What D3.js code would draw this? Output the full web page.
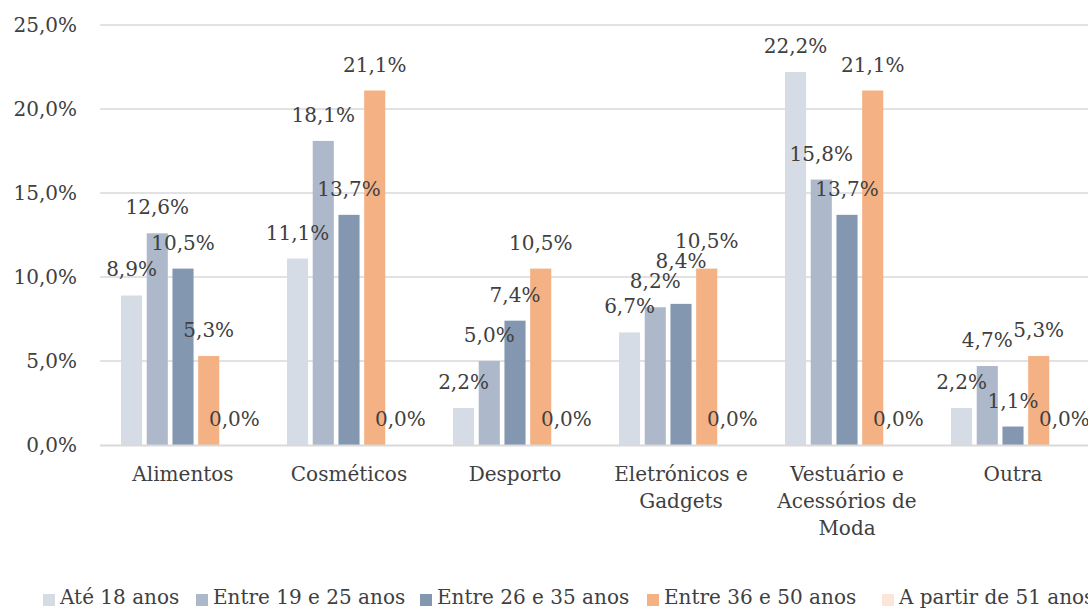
<!DOCTYPE html>
<html><head><meta charset="utf-8">
<script src="https://cdn.jsdelivr.net/npm/d3@7"></script>
<style>
html,body{margin:0;padding:0;background:#fff;}
text{font-family:"DejaVu Serif",Georgia,serif;fill:#404040;}
</style></head>
<body>
<svg id="chart" width="1088" height="609"></svg>
<script>
const categories = ["Alimentos","Cosméticos","Desporto","Eletrónicos e\nGadgets","Vestuário e\nAcessórios de\nModa","Outra"];
const seriesNames = ["Até 18 anos","Entre 19 e 25 anos","Entre 26 e 35 anos","Entre 36 e 50 anos","A partir de 51 anos"];
const seriesColors = ["#D6DCE5","#ADB9CA","#8497B0","#F4B183","#FBE5D6"];
const ate18   = [8.9, 11.1, 2.2, 6.7, 22.2, 2.2];
const e19a25  = [12.6, 18.1, 5.0, 8.2, 15.8, 4.7];
const e26a35  = [10.5, 13.7, 7.4, 8.4, 13.7, 1.1];
const e36a50  = [5.3, 21.1, 10.5, 10.5, 21.1, 5.3];
const mais51  = [0.0, 0.0, 0.0, 0.0, 0.0, 0.0];
const yTicks = [0,5,10,15,20,25];
const seriesValues = [ate18, e19a25, e26a35, e36a50, mais51];

(function(){
const svg = d3.select("#chart");
const pLeft = 100, pRight = 1096, pTop = 25, pBottom = 445;
const fmt = v => v.toFixed(1).replace(".", ",") + "%";

const y = d3.scaleLinear().domain([0,25]).range([pBottom, pTop]);
const x = d3.scaleBand().domain(categories).range([pLeft, pRight]).padding(0);
const xs = d3.scaleBand().domain(d3.range(seriesNames.length))
  .range([21, x.bandwidth()-21]).paddingInner(0.18).paddingOuter(0);

svg.append("g").selectAll("line").data(yTicks.filter(t=>t>0)).join("line")
  .attr("x1", pLeft).attr("x2", 1088)
  .attr("y1", d=>y(d)).attr("y2", d=>y(d))
  .attr("stroke","#D9D9D9").attr("stroke-width",1.5);

const yAxis = d3.axisLeft(y).tickValues(yTicks).tickFormat(fmt).tickSize(0).tickPadding(0);
const gy = svg.append("g").attr("transform","translate(77,0)").call(yAxis);
gy.select(".domain").remove();
gy.selectAll("text").attr("font-size","20px").attr("fill","#404040")
  .style("font-family",'"DejaVu Serif",Georgia,serif');

seriesValues.forEach((vals, si) => {
  svg.append("g").selectAll("rect").data(vals).join("rect")
    .attr("x", (d,i)=> x(categories[i]) + xs(si))
    .attr("width", xs.bandwidth())
    .attr("y", d=> y(d))
    .attr("height", d=> y(0)-y(d))
    .attr("fill", seriesColors[si]);
});

svg.append("line").attr("x1",pLeft).attr("x2",1088).attr("y1",y(0)+0.5).attr("y2",y(0)+0.5)
  .attr("stroke","#D9D9D9").attr("stroke-width",2);

// data labels with simple vertical collision avoidance (like the source)
const labels = [];
categories.forEach((c, ci) => {
  let prevY = null;
  seriesValues.forEach((vals, si) => {
    let ly = y(vals[ci]) - 26;
    if (prevY !== null && Math.abs(ly - prevY) < 20) ly = prevY - 20;
    prevY = ly;
    labels.push({x: x(c) + xs(si) + xs.bandwidth()/2, y: ly, v: vals[ci]});
  });
});
svg.append("g").selectAll("text").data(labels).join("text")
  .attr("x", d=>d.x).attr("y", d=>d.y)
  .attr("dy","0.35em")
  .attr("text-anchor","middle")
  .attr("font-size","20px")
  .text(d=>fmt(d.v));

const cl = svg.append("g").selectAll("text").data(categories).join("text")
  .attr("x", d=> x(d)+x.bandwidth()/2)
  .attr("y", 474)
  .attr("text-anchor","middle")
  .attr("font-size","20px");
cl.each(function(d){
  const t = d3.select(this);
  d.split("\n").forEach((line,i)=>{
    t.append("tspan").attr("x", x(d)+x.bandwidth()/2).attr("dy", i===0 ? "0.35em" : "27px").text(line);
  });
});

const legendX = [43, 196, 420, 647, 882];
const leg = svg.append("g");
seriesNames.forEach((name, i) => {
  leg.append("rect").attr("x", legendX[i]).attr("y", 594).attr("width",12).attr("height",12).attr("fill", seriesColors[i]);
  leg.append("text").attr("x", legendX[i]+17).attr("y", 604).attr("font-size","20px").text(name);
});
})();
</script>
</body></html>
